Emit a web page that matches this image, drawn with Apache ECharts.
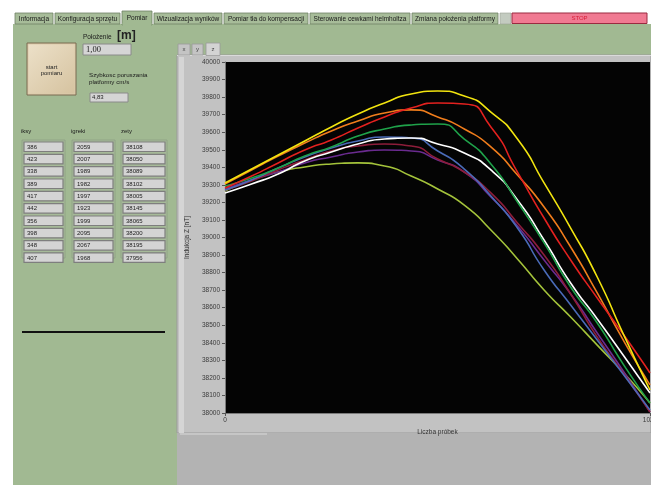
<!DOCTYPE html>
<html><head><meta charset="utf-8">
<script src="https://cdn.jsdelivr.net/npm/echarts@6/dist/echarts.min.js"></script>
<style>html,body{margin:0;padding:0;background:#fff;overflow:hidden}#c{width:651px;height:485px}</style>
</head><body><div id="c"></div>
<script>
// ---- data ----
const probki = [0,64,128,192,256,320,384,448,512,576,640,704,768,832,896,960,1023];
const zolta        = [39311,39390,39470,39550,39630,39704,39766,39818,39835,39806,39715,39561,39311,39054,38775,38444,38131];
const czerwona     = [39282,39350,39425,39499,39556,39624,39687,39738,39766,39761,39630,39373,39111,38872,38655,38444,38228];
const pomaranczowa = [39305,39385,39464,39538,39607,39664,39709,39727,39687,39618,39516,39356,39174,38946,38684,38410,38160];
const zielona      = [39293,39339,39396,39464,39516,39578,39618,39641,39647,39561,39419,39202,38969,38718,38513,38273,38057];
const biala        = [39254,39305,39362,39436,39487,39533,39561,39567,39533,39481,39385,39214,38986,38741,38536,38325,38114];
const niebieska    = [39271,39328,39396,39459,39510,39550,39573,39567,39493,39390,39236,39054,38815,38615,38416,38216,38017];
const bordowa      = [39271,39322,39385,39442,39493,39521,39533,39521,39447,39373,39254,39083,38900,38678,38433,38222,38006];
const fioletowa    = [39276,39328,39373,39425,39459,39487,39499,39493,39442,39373,39231,39066,38872,38678,38456,38234,38006];
const limonkowa    = [39265,39328,39373,39402,39419,39425,39407,39350,39276,39185,39043,38878,38701,38547,38387,38228,38057];

const iksy   = [386,423,338,389,417,442,356,398,348,407];
const igreki = [2059,2007,1989,1982,1997,1923,1999,2095,2067,1968];
const zety   = [38108,38050,38089,38102,38005,38145,38065,38200,38195,37956];

const zakladki = ['Informacja','Konfiguracja sprzętu','Pomiar','Wizualizacja wyników','Pomiar tła do kompensacji','Sterowanie cewkami helmholtza','Zmiana położenia platformy'];
const zakladkiWykresu = ['x','y','z'];
const polozenie = '1,00';
const szybkosc = '4,83';

// ---- UI drawing ----
const F = '"Liberation Sans", Arial, Helvetica, sans-serif';
const G = [];
function R(x,y,w,h,fill,stroke,lw,z){G.push({type:'rect',silent:true,z:(z==null?-10:z),shape:{x:x,y:y,width:w,height:h},style:{fill:fill||'none',stroke:stroke||null,lineWidth:lw||0}});}
function T(x,y,t,size,fill,align,valign,font){G.push({type:'text',silent:true,z:5,x:x,y:y,style:{text:t,font:font||(size+'px '+F),fill:fill||'#1a1a1a',textAlign:align||'left',align:align||'left',textVerticalAlign:valign||'middle',verticalAlign:valign||'middle'}});}
function L(x1,y1,x2,y2,stroke,lw,z){G.push({type:'line',silent:true,z:(z==null?-9:z),shape:{x1:x1,y1:y1,x2:x2,y2:y2},style:{stroke:stroke,lineWidth:lw}});}

R(0,0,651,485,'#ffffff',null,0,-20);
R(13,24,638,461,'#a1b992',null,0,-19);
// tabs
const tabPos = [[15,53],[55,120],[122,152],[154,222],[224,308],[310,410],[412,498]];
zakladki.forEach(function(t,i){
  const p = tabPos[i];
  if (i === 2) {
    R(p[0],11,p[1]-p[0],14,'#a1b992','#6f8066',0.8,-12);
    R(p[0]+0.6,23,p[1]-p[0]-1.2,3,'#a1b992',null,0,-11);
    T((p[0]+p[1])/2,18.5,t,6.5,'#1a1a1a','center','middle');
  } else {
    R(p[0],13,p[1]-p[0],11,'#a7bc99','#6f8066',0.8,-12);
    T((p[0]+p[1])/2,19,t,6.5,'#1a1a1a','center','middle');
  }
});
R(500,13,11,11,'#c3cbc0','#9aa296',0.6,-12);
R(512,13,135,10.5,'#f07a92','#9a2a40',1,-12);
T(579.5,18.3,'STOP',6,'#d8203a','center','middle');

// start button
R(27,43,49,52,'#dccbab','#7a6a50',1,-12);
R(28.5,44.5,46,49,{type:'linear',x:0,y:0,x2:1,y2:1,colorStops:[{offset:0,color:'#ece0c8'},{offset:1,color:'#d6c3a0'}]},null,0,-11);
T(51.5,70,'start\npomiaru',6,'#222','center','middle');

T(83,37,'Położenie',6.5,'#1a1a1a','left','middle');
T(117,36,'[m]',12,'#222','left','middle','bold 12px '+F);
R(83,44,48,11,'#d5d5d5','#8a8a8a',1,-12);
T(86,49.8,polozenie,8.5,'#222','left','middle','8.5px "Liberation Serif", serif');
T(89,75,'Szybkosc poruszania',6.2,'#1a1a1a','left','middle');
T(89,82,'platformy cm/s',6.2,'#1a1a1a','left','middle');
R(90,93,38,9,'#d5d5d5','#8a8a8a',1,-12);
T(92,97.7,szybkosc,6,'#222','left','middle');

// columns
const kolumny = [[iksy,'iksy',24,39,21],[igreki,'igreki',74,39,71],[zety,'zety',123,42,121]];
kolumny.forEach(function(k){
  T(k[4],131,k[1],6,'#1a1a1a','left','middle');
  R(k[2]-2,140,k[3]+4,118,'#a6ba99','#8d9e84',0.8,-12);
  k[0].forEach(function(v,i){
    const y = 142 + i*12.33;
    R(k[2],y,k[3],9.5,'#d4d4d4','#7e7e7e',1.2,-11);
    T(k[2]+3,y+5,String(v),6,'#222','left','middle');
  });
});
L(22,332,165,332,'#111',2,-8);

// chart panel
R(177,55,474,378,'#c2c2c2','#9b9b9b',1,-15);
R(179,57,5,376,'#d5d5d5',null,0,-14);
R(177,433,474,52,'#b3b3b3',null,0,-14);
R(180,433,87,2,'#c6c6c6',null,0,-13);
L(177,55.5,651,55.5,'#dadada',1,-13);
const tabXYZ = [[178,12],[192,11],[206,14]];
zakladkiWykresu.forEach(function(t,i){
  const p = tabXYZ[i];
  if (i === 2) R(p[0],43,p[1],12.5,'#d3d3d3','#9a9a9a',0.8,-12);
  else R(p[0],44,p[1],11,'#c4c4c4','#9a9a9a',0.8,-12);
  T(p[0]+p[1]/2,49.3,t,6,'#444','center','middle');
});

// ---- chart ----
const serie = [
  [limonkowa,'#a4c33b'],[fioletowa,'#6a2b8f'],[bordowa,'#8d1d3a'],[niebieska,'#4a6bb8'],
  [biala,'#ffffff'],[zielona,'#1fa24a'],[pomaranczowa,'#f07d1c'],[czerwona,'#e3211f'],[zolta,'#f2e40f']
];
const chart = echarts.init(document.getElementById('c'), null, {renderer:'canvas'});
chart.setOption({
  animation:false,
  backgroundColor:'transparent',
  grid:{left:225,top:62,width:425,height:351,show:true,backgroundColor:'#040404',borderWidth:0,outerBoundsMode:'none',containLabel:false},
  xAxis:{type:'value',min:0,max:1023,interval:1023,
    name:'Liczba próbek',nameLocation:'middle',nameGap:13,
    nameTextStyle:{fontSize:6.5,color:'#333',fontFamily:F},
    axisLine:{show:true,lineStyle:{color:'#7a7a7a',width:1}},
    axisTick:{show:true,length:3,lineStyle:{color:'#555'}},
    axisLabel:{fontSize:6.5,color:'#3a3a3a',margin:4,fontFamily:F,formatter:function(v){return String(v);}},
    splitLine:{show:false}},
  yAxis:{type:'value',min:38000,max:40000,interval:100,
    name:'Indukcja Z [nT]',nameLocation:'middle',nameRotate:90,nameGap:23,
    nameTextStyle:{fontSize:6.5,color:'#333',fontFamily:F},
    axisLine:{show:true,lineStyle:{color:'#7a7a7a',width:1}},
    axisTick:{show:true,length:3,lineStyle:{color:'#555'}},
    axisLabel:{fontSize:6.5,color:'#3a3a3a',margin:5,fontFamily:F,formatter:function(v){return String(v);}},
    splitLine:{show:false}},
  graphic:{elements:G},
  series: serie.map(function(s,i){
    return {type:'line',name:'pomiar '+(i+1),smooth:0.65,showSymbol:false,symbol:'none',
      lineStyle:{color:s[1],width:1.6},itemStyle:{color:s[1]},
      data: probki.map(function(x,j){return [x,s[0][j]];})};
  })
});
</script>
</body></html>
